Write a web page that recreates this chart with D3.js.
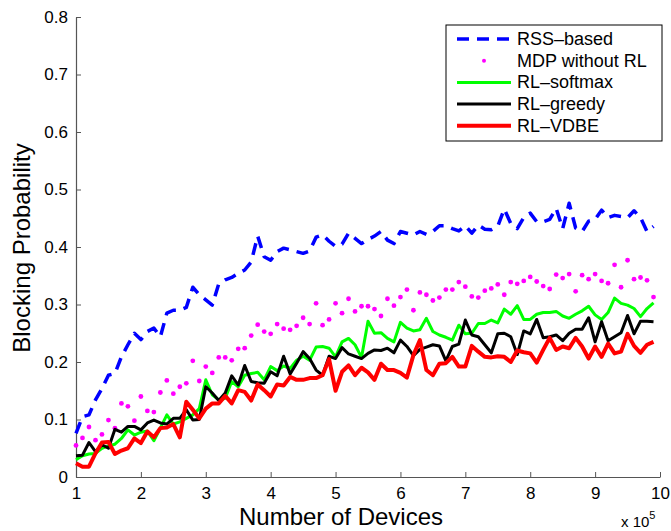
<!DOCTYPE html>
<html>
<head>
<meta charset="utf-8">
<script src="https://cdn.jsdelivr.net/npm/d3@7"></script>
<style>
  body { margin: 0; background: #fff; }
  svg { display: block; font-family: "Liberation Sans", Arial, sans-serif; }
</style>
</head>
<body>
<div id="chart"></div>
<script>
// x axis: number of devices (x 10^5), 1.0 .. 9.9 step 0.1
const xValues = d3.range(90).map(i => 1 + i / 10);
const xTicks = [1, 2, 3, 4, 5, 6, 7, 8, 9, 10];
const yTicks = [0, 0.1, 0.2, 0.3, 0.4, 0.5, 0.6, 0.7, 0.8];

const rssBased = [
  0.076, 0.105, 0.108, 0.134, 0.154, 0.177, 0.180, 0.209, 0.230, 0.250,
  0.239, 0.253, 0.259, 0.244, 0.285, 0.290, 0.290, 0.295, 0.330, 0.317,
  0.308, 0.299, 0.336, 0.343, 0.347, 0.354, 0.360, 0.374, 0.419, 0.383,
  0.377, 0.392, 0.398, 0.395, 0.392, 0.389, 0.393, 0.417, 0.421, 0.410,
  0.401, 0.405, 0.424, 0.415, 0.406, 0.413, 0.419, 0.427, 0.412, 0.406,
  0.427, 0.424, 0.421, 0.427, 0.422, 0.427, 0.437, 0.437, 0.432, 0.428,
  0.437, 0.424, 0.438, 0.431, 0.430, 0.436, 0.466, 0.441, 0.432, 0.451,
  0.459, 0.444, 0.444, 0.448, 0.467, 0.432, 0.476, 0.433, 0.427, 0.445,
  0.448, 0.464, 0.451, 0.455, 0.453, 0.451, 0.463, 0.451, 0.427, 0.436
];

const mdpNoRL = [
  0.055, 0.068, 0.087, 0.064, 0.074, 0.099, 0.085, 0.128, 0.123, 0.098,
  0.140, 0.115, 0.113, 0.147, 0.168, 0.145, 0.157, 0.163, 0.202, 0.167,
  0.192, 0.181, 0.208, 0.208, 0.203, 0.223, 0.224, 0.246, 0.265, 0.253,
  0.249, 0.266, 0.258, 0.256, 0.263, 0.277, 0.266, 0.302, 0.264, 0.274,
  0.302, 0.285, 0.310, 0.288, 0.297, 0.297, 0.292, 0.280, 0.310, 0.298,
  0.313, 0.326, 0.290, 0.321, 0.317, 0.307, 0.312, 0.326, 0.326, 0.339,
  0.331, 0.314, 0.312, 0.324, 0.328, 0.335, 0.317, 0.339, 0.336, 0.341,
  0.348, 0.340, 0.332, 0.327, 0.352, 0.346, 0.353, 0.323, 0.351, 0.344,
  0.353, 0.341, 0.337, 0.369, 0.330, 0.377, 0.344, 0.347, 0.342, 0.313
];

const rlSoftmax = [
  0.030, 0.037, 0.040, 0.041, 0.050, 0.054, 0.057, 0.067, 0.082, 0.073,
  0.078, 0.080, 0.063, 0.085, 0.108, 0.092, 0.096, 0.102, 0.108, 0.119,
  0.169, 0.143, 0.134, 0.137, 0.166, 0.157, 0.177, 0.180, 0.182, 0.169,
  0.192, 0.185, 0.193, 0.189, 0.203, 0.210, 0.203, 0.226, 0.227, 0.224,
  0.209, 0.235, 0.241, 0.230, 0.208, 0.271, 0.250, 0.251, 0.241, 0.235,
  0.269, 0.259, 0.254, 0.256, 0.276, 0.253, 0.247, 0.243, 0.238, 0.264,
  0.249, 0.250, 0.267, 0.267, 0.273, 0.268, 0.292, 0.283, 0.298, 0.274,
  0.274, 0.283, 0.286, 0.286, 0.288, 0.280, 0.276, 0.283, 0.289, 0.297,
  0.282, 0.274, 0.286, 0.311, 0.302, 0.299, 0.293, 0.279, 0.293, 0.303
];

const rlGreedy = [
  0.037, 0.038, 0.060, 0.044, 0.056, 0.050, 0.083, 0.078, 0.088, 0.088,
  0.082, 0.094, 0.099, 0.094, 0.092, 0.102, 0.102, 0.117, 0.099, 0.100,
  0.157, 0.146, 0.133, 0.146, 0.176, 0.160, 0.194, 0.166, 0.164, 0.163,
  0.183, 0.176, 0.210, 0.179, 0.198, 0.218, 0.206, 0.186, 0.177, 0.210,
  0.206, 0.225, 0.214, 0.210, 0.206, 0.215, 0.221, 0.220, 0.224, 0.216,
  0.238, 0.227, 0.211, 0.222, 0.226, 0.230, 0.228, 0.202, 0.227, 0.231,
  0.273, 0.247, 0.244, 0.230, 0.216, 0.249, 0.250, 0.244, 0.213, 0.254,
  0.249, 0.274, 0.242, 0.244, 0.247, 0.237, 0.250, 0.257, 0.257, 0.277,
  0.235, 0.270, 0.237, 0.244, 0.251, 0.281, 0.249, 0.271, 0.271, 0.270
];

const rlVDBE = [
  0.024, 0.018, 0.018, 0.041, 0.060, 0.061, 0.040, 0.046, 0.050, 0.067,
  0.059, 0.079, 0.069, 0.085, 0.086, 0.092, 0.069, 0.131, 0.117, 0.102,
  0.119, 0.128, 0.128, 0.141, 0.128, 0.151, 0.148, 0.133, 0.161, 0.151,
  0.140, 0.161, 0.159, 0.174, 0.169, 0.169, 0.172, 0.172, 0.177, 0.205,
  0.150, 0.183, 0.194, 0.177, 0.190, 0.182, 0.169, 0.197, 0.186, 0.186,
  0.181, 0.173, 0.212, 0.238, 0.186, 0.177, 0.197, 0.198, 0.209, 0.192,
  0.192, 0.228, 0.218, 0.209, 0.208, 0.210, 0.209, 0.200, 0.220, 0.217,
  0.215, 0.199, 0.221, 0.242, 0.221, 0.227, 0.224, 0.242, 0.227, 0.206,
  0.227, 0.209, 0.232, 0.215, 0.218, 0.249, 0.228, 0.216, 0.230, 0.235
];

const series = [
  { name: 'RSS\u2013based', values: rssBased, color: '#0000ff', width: 3.5, dash: '12,8', dots: false },
  { name: 'MDP without RL', values: mdpNoRL, color: '#ff00ff', width: 0, dash: null, dots: true },
  { name: 'RL\u2013softmax', values: rlSoftmax, color: '#00ff00', width: 3, dash: null, dots: false },
  { name: 'RL\u2013greedy', values: rlGreedy, color: '#000000', width: 3, dash: null, dots: false },
  { name: 'RL\u2013VDBE', values: rlVDBE, color: '#ff0000', width: 4, dash: null, dots: false }
];

const width = 671;
const height = 531;
const margin = { top: 17, right: 11, bottom: 54, left: 76 };
const innerW = width - margin.left - margin.right;
const innerH = height - margin.top - margin.bottom;

const svg = d3.select('#chart').append('svg')
  .attr('width', width)
  .attr('height', height);

const g = svg.append('g')
  .attr('transform', `translate(${margin.left},${margin.top})`);

const x = d3.scaleLinear().domain([1, 10]).range([0, innerW]);
const y = d3.scaleLinear().domain([0, 0.8]).range([innerH, 0]);

// Axes, MATLAB style: ticks pointing inward
const xAxis = g.append('g')
  .attr('transform', `translate(0,${innerH})`)
  .call(d3.axisBottom(x).tickValues(xTicks).tickSizeInner(-5).tickSizeOuter(0).tickPadding(10).tickFormat(d3.format('d')));
const yAxis = g.append('g')
  .call(d3.axisLeft(y).tickValues(yTicks).tickSizeInner(-5).tickSizeOuter(0).tickPadding(8).tickFormat(d => d === 0 ? '0' : d3.format('.1f')(d)));

[xAxis, yAxis].forEach(ax => {
  ax.select('.domain').attr('stroke', '#555').attr('stroke-width', 1.2);
  ax.selectAll('.tick line').attr('stroke', '#555').attr('stroke-width', 1);
  ax.selectAll('.tick text').attr('fill', '#000').attr('font-size', '17px')
    .attr('font-family', '"Liberation Sans", Arial, sans-serif');
});

// Lines
const line = d3.line()
  .x((d, i) => x(xValues[i]))
  .y(d => y(d));

series.forEach(s => {
  if (s.dots) {
    g.append('g').selectAll('circle')
      .data(s.values)
      .join('circle')
      .attr('cx', (d, i) => x(xValues[i]))
      .attr('cy', d => y(d))
      .attr('r', 2.4)
      .attr('fill', s.color);
  } else {
    g.append('path')
      .datum(s.values)
      .attr('fill', 'none')
      .attr('stroke', s.color)
      .attr('stroke-width', s.width)
      .attr('stroke-linejoin', 'round')
      .attr('stroke-dasharray', s.dash)
      .attr('d', line);
  }
});

// Axis labels
svg.append('text')
  .attr('x', 341)
  .attr('y', 525)
  .attr('text-anchor', 'middle')
  .attr('font-size', '24px')
  .text('Number of Devices');

svg.append('text')
  .attr('transform', `translate(30,248) rotate(-90)`)
  .attr('text-anchor', 'middle')
  .attr('font-size', '24px')
  .text('Blocking Probability');

const expo = svg.append('text')
  .attr('x', 621)
  .attr('y', 527)
  .attr('font-size', '15px');
expo.append('tspan').text('x 10');
expo.append('tspan').attr('dy', -8).attr('font-size', '11px').text('5');

// Legend
const legend = svg.append('g').attr('transform', 'translate(446,25)');
legend.append('rect')
  .attr('width', 216).attr('height', 116)
  .attr('fill', '#fff').attr('stroke', '#000').attr('stroke-width', 1);

series.forEach((s, i) => {
  const row = legend.append('g').attr('transform', `translate(0,${14 + i * 21.7})`);
  if (s.dots) {
    row.append('circle').attr('cx', 38).attr('cy', 0).attr('r', 2).attr('fill', s.color);
  } else {
    row.append('line')
      .attr('x1', 11).attr('x2', 65).attr('y1', 0).attr('y2', 0)
      .attr('stroke', s.color).attr('stroke-width', s.width)
      .attr('stroke-dasharray', s.dash);
  }
  row.append('text')
    .attr('x', 71).attr('y', 6)
    .attr('font-size', '18px')
    .text(s.name);
});
</script>
</body>
</html>
